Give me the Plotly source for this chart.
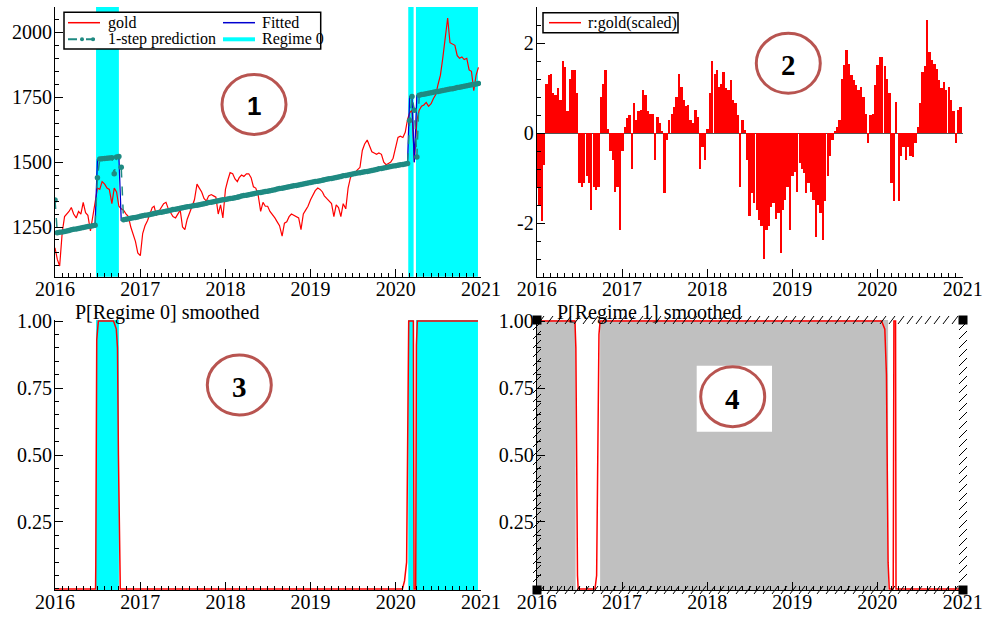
import plotly.graph_objects as go

# ---------------- data ----------------
years = [2016, 2017, 2018, 2019, 2020]
days = [1, 11, 21]
dates = [f"{y}-{m:02d}-{d:02d}" for y in years for m in range(1, 13) for d in days]

gold = [
    1170, 1125, 1100, 1230, 1290, 1300, 1310, 1325, 1300, 1285, 1310, 1300,
    1345, 1305, 1295, 1235, 1300, 1345, 1400, 1395, 1425, 1415, 1400, 1395,
    1340, 1400, 1385, 1330, 1320, 1315, 1300, 1290, 1250, 1225, 1195, 1150,
    1140, 1225, 1255, 1275, 1300, 1325, 1330, 1295, 1310, 1325, 1340, 1345,
    1320, 1305, 1290, 1285, 1300, 1315, 1250, 1240, 1280, 1310, 1330, 1355,
    1415, 1400, 1385, 1360, 1350, 1370, 1375, 1370, 1365, 1300, 1335, 1285,
    1395, 1430, 1460, 1455, 1435, 1425, 1440, 1450, 1445, 1455, 1455, 1440,
    1405, 1400, 1375, 1310, 1345, 1330, 1330, 1310, 1300, 1285, 1270, 1255,
    1215, 1265, 1270, 1290, 1300, 1295, 1290, 1285, 1240, 1300, 1315, 1330,
    1355, 1370, 1390, 1400, 1395, 1385, 1370, 1360, 1350, 1340, 1290, 1335,
    1325, 1290, 1340, 1320, 1400, 1440, 1455, 1460, 1470, 1480, 1545, 1570,
    1585, 1560, 1540, 1535, 1530, 1535, 1530, 1500, 1490, 1495, 1500, 1515,
    1560, 1595, 1600, 1595, 1615, 1665, 1690, 1700, 1500, 1660, 1700, 1715,
    1720, 1730, 1715, 1725, 1745, 1760, 1800, 1835, 1900, 1975, 2055, 1960,
    1955, 1950, 1910, 1900, 1905, 1895, 1900, 1855, 1850, 1775, 1835, 1865,
]

fitted = [
    1226, 1228, 1230, 1231, 1233, 1235, 1237, 1239, 1241, 1242, 1244, 1246,
    1248, 1250, 1252, 1253, 1255, 1257, 1510, 1512, 1513, 1514, 1515, 1516,
    1517, 1518, 1520, 1522, 1276, 1278, 1280, 1282, 1284, 1286, 1287, 1289,
    1291, 1293, 1295, 1296, 1298, 1300, 1302, 1304, 1306, 1307, 1309, 1311,
    1313, 1315, 1317, 1318, 1320, 1322, 1324, 1326, 1328, 1329, 1331, 1333,
    1334, 1336, 1338, 1340, 1342, 1344, 1345, 1347, 1349, 1351, 1353, 1355,
    1356, 1358, 1360, 1361, 1363, 1365, 1367, 1369, 1371, 1372, 1374, 1376,
    1378, 1380, 1382, 1383, 1385, 1387, 1388, 1390, 1392, 1394, 1396, 1398,
    1399, 1401, 1403, 1405, 1407, 1409, 1410, 1412, 1414, 1416, 1418, 1420,
    1421, 1423, 1425, 1426, 1428, 1430, 1432, 1434, 1436, 1437, 1439, 1441,
    1443, 1445, 1447, 1448, 1450, 1452, 1454, 1456, 1458, 1459, 1461, 1463,
    1464, 1466, 1468, 1470, 1472, 1474, 1475, 1477, 1479, 1481, 1483, 1485,
    1486, 1488, 1490, 1491, 1493, 1495, 1752, 1753, 1500, 1756, 1758, 1760,
    1761, 1763, 1765, 1767, 1769, 1771, 1772, 1774, 1776, 1778, 1780, 1782,
    1783, 1785, 1787, 1788, 1790, 1792, 1794, 1796, 1798, 1799, 1801, 1803,
]

prediction = [
    1354, 1228, 1230, 1231, 1233, 1235, 1237, 1239, 1241, 1242, 1244, 1246,
    1248, 1250, 1252, 1253, 1255, 1257, 1440, 1512, 1513, 1514, 1515, 1516,
    1517, 1455, 1520, 1522, 1480, 1278, 1280, 1282, 1284, 1286, 1287, 1289,
    1291, 1293, 1295, 1296, 1298, 1300, 1302, 1304, 1306, 1307, 1309, 1311,
    1313, 1315, 1317, 1318, 1320, 1322, 1324, 1326, 1328, 1329, 1331, 1333,
    1334, 1336, 1338, 1340, 1342, 1344, 1345, 1347, 1349, 1351, 1353, 1355,
    1356, 1358, 1360, 1361, 1363, 1365, 1367, 1369, 1371, 1372, 1374, 1376,
    1378, 1380, 1382, 1383, 1385, 1387, 1388, 1390, 1392, 1394, 1396, 1398,
    1399, 1401, 1403, 1405, 1407, 1409, 1410, 1412, 1414, 1416, 1418, 1420,
    1421, 1423, 1425, 1426, 1428, 1430, 1432, 1434, 1436, 1437, 1439, 1441,
    1443, 1445, 1447, 1448, 1450, 1452, 1454, 1456, 1458, 1459, 1461, 1463,
    1464, 1466, 1468, 1470, 1472, 1474, 1475, 1477, 1479, 1481, 1483, 1485,
    1486, 1488, 1490, 1491, 1493, 1495, 1660, 1753, 1700, 1520, 1758, 1760,
    1761, 1763, 1765, 1767, 1769, 1771, 1772, 1774, 1776, 1778, 1780, 1782,
    1783, 1785, 1787, 1788, 1790, 1792, 1794, 1796, 1798, 1799, 1801, 1803,
]

resid_scaled = [
    -1.2, -1.6, -1.95, -0.7, 1.1, 1.3, 1.33, 0.9, 0.85, 1.0, 0.74, 1.6,
    1.48, 0.5, 1.2, 1.4, 1.4, 0.9, -1.1, -1.2, -1.1, -0.95, -1.1, -1.7,
    -1.2, -1.25, -1.2, 0.8, 1.1, 1.4, 0.1, -0.4, -0.6, -1.3, -1.2, -2.15,
    -0.4, 0.15, 0.35, 0.4, -0.8, 0.67, 0.3, 0.5, 0.52, 0.96, 0.85, 0.5,
    0.44, 0.44, -0.6, 0.37, 0.22, 0.05, -1.33, -0.15, 0.3, 0.44, 0.59, 0.81,
    1.33, 1.04, 0.74, 0.6, 0.63, 0.3, 0.22, 0.52, 0.37, -0.8, -0.3, -0.6,
    0.1, 0.9, 1.6, 1.33, 1.4, 1.04, 1.1, 1.37, 1.0, 0.96, 1.19, 0.74,
    0.67, 0.41, -1.19, 0.3, 0.07, -0.6, -1.85, -1.33, -1.55, -1.7, -1.93, -2.07,
    -2.8, -2.15, -2.07, -1.63, -1.55, -1.9, -1.78, -2.67, -1.7, -1.48, -1.19, -2.15,
    -0.96, -0.85, -1.3, -0.67, -0.8, -0.89, -1.33, -1.1, -1.3, -1.48, -2.3, -1.6,
    -1.78, -2.37, -1.5, -0.96, -0.5, -0.15, 0.05, 0.15, 0.3, 1.2, 1.52, 1.85,
    1.55, 1.3, 1.19, 1.07, 0.96, 1.04, 0.81, 0.44, -0.22, 0.4, 0.44, 1.07,
    1.52, 1.7, 1.7, 1.5, 1.2, 0.9, -1.1, -1.5, 0.7, -1.5, -0.5, -0.3,
    -0.6, -0.3, -0.5, -0.52, -0.22, 0.15, 0.67, 1.37, 1.5, 2.52, 1.8, 1.63,
    1.55, 1.44, 1.19, 1.0, 1.15, 0.96, 1.04, 0.74, 0.5, -0.22, 0.52, 0.59,
]

p0_dates = ["2016-01-01", "2016-06-23", "2016-06-24", "2016-06-28", "2016-07-05",
            "2016-09-08", "2016-09-20", "2016-09-25", "2016-09-29", "2016-10-07",
            "2020-01-30", "2020-02-08", "2020-02-17", "2020-02-21", "2020-02-26",
            "2020-03-17", "2020-03-20", "2020-03-27", "2020-03-30", "2020-04-03",
            "2020-12-19"]
p0_values = [0, 0, 0.09, 0.93, 1.0, 1.0, 0.97, 0.9, 0.5, 0.0,
             0.0, 0.03, 0.1, 0.43, 1.0, 1.0, 0.0, 0.0, 0.91, 1.0, 1.0]

p1_dates = ["2016-01-01", "2016-06-13", "2016-06-17", "2016-06-20", "2016-06-24",
            "2016-06-27", "2016-09-07", "2016-09-14", "2016-09-19", "2016-09-24",
            "2016-09-29", "2020-01-19", "2020-02-02", "2020-02-09", "2020-02-16",
            "2020-02-21", "2020-03-09", "2020-03-12", "2020-03-19", "2020-03-21",
            "2020-12-19"]
p1_values = [1.0, 1.0, 0.9, 0.36, 0.05, 0.0, 0.0, 0.05, 0.5, 0.95,
             1.0, 1.0, 0.97, 0.8, 0.1, 0.0, 0.0, 1.0, 1.0, 0.0, 0.0]

regime0_start = ["2016-06-25", "2020-02-24", "2020-03-28"]
regime0_end = ["2016-10-01", "2020-03-18", "2020-12-19"]
regime1_start = ["2016-01-01", "2016-09-29"]
regime1_end = ["2016-06-16", "2020-02-16"]

year_ticks = ["2016", "2017", "2018", "2019", "2020", "2021"]

# ---------------- styling helpers ----------------
W, H = 985, 619
def fx(x):
    return x / W
def fy(y):
    return 1 - y / H

RED = "#ff0000"
BLUE = "#0000d0"
TEAL = "#1f8a82"
CYAN = "#00ffff"
GREY = "#c0c0c0"
CIRC = "#b85450"
FONT = "Liberation Serif"

fig = go.Figure()

# panel 1
fig.add_trace(go.Scatter(x=dates, y=gold, mode="lines", line=dict(color=RED, width=1.2),
                         name="gold", xaxis="x", yaxis="y"))
fig.add_trace(go.Scatter(x=dates, y=fitted, mode="lines", line=dict(color=BLUE, width=1.3),
                         name="Fitted", xaxis="x", yaxis="y"))
fig.add_trace(go.Scatter(x=dates, y=prediction, mode="lines+markers",
                         line=dict(color=TEAL, width=1.5, dash="dash"),
                         marker=dict(color=TEAL, size=5.5),
                         name="1-step prediction", xaxis="x", yaxis="y"))
# panel 2
fig.add_trace(go.Bar(x=dates, y=resid_scaled, marker=dict(color=RED, line=dict(width=0)),
                     width=10 * 86400000, name="r:gold(scaled)", xaxis="x2", yaxis="y2"))
# panel 3
fig.add_trace(go.Scatter(x=p0_dates, y=p0_values, mode="lines", line=dict(color=RED, width=1.5),
                         name="P[Regime 0] smoothed", xaxis="x3", yaxis="y3"))
# panel 4
fig.add_trace(go.Scatter(x=p1_dates, y=p1_values, mode="lines", line=dict(color=RED, width=1.5),
                         name="P[Regime 1] smoothed", xaxis="x4", yaxis="y4"))

tickfont = dict(family=FONT, size=20, color="black")
base = dict(showline=True, linecolor="black", linewidth=1, ticks="inside", tickcolor="black",
            ticklen=8, tickwidth=1, showgrid=False, zeroline=False, tickfont=tickfont,
            automargin=False)

def xax(x0, x1, anchor):
    return dict(base, type="date", range=["2016-01-01", "2021-01-01"],
                tickmode="array", tickvals=[f"{t}-01-01" for t in year_ticks], ticktext=year_ticks,
                minor=dict(dtick="M1", tick0="2016-01-01", ticks="inside", ticklen=4,
                           tickcolor="black", showgrid=False),
                ticklabelstandoff=-6,
                domain=[fx(x0), fx(x1)], anchor=anchor)

def yax(x_anchor, top, bottom, **kw):
    d = dict(base, ticklabelstandoff=-2, domain=[fy(bottom), fy(top)], anchor=x_anchor)
    d.update(kw)
    return d

prob_vals = [0.25, 0.5, 0.75, 1.0]
prob_text = ["0.25", "0.50", "0.75", "1.00"]
prob_minor = dict(tickmode="linear", tick0=0, dtick=0.05, ticks="inside", ticklen=4,
                  tickcolor="black")

fig.update_layout(
    width=W, height=H, margin=dict(l=0, r=0, t=0, b=0, pad=0),
    font=dict(family=FONT, size=20, color="black"),
    paper_bgcolor="white", plot_bgcolor="white", showlegend=False, bargap=0,
    xaxis=xax(55, 481, "y"),
    xaxis2=xax(536.7, 962.7, "y2"),
    xaxis3=xax(55, 481, "y3"),
    xaxis4=xax(536.7, 962.7, "y4"),
    yaxis=yax("x", 7, 276.7, range=[1058.6, 2097.5], tick0=1250, dtick=250,
              minor=dict(tick0=1250, dtick=50, ticks="inside", ticklen=4, tickcolor="black")),
    yaxis2=yax("x2", 7, 276.7, range=[-3.19, 2.81], tickmode="array", tickvals=[-2, 0, 2],
               ticktext=["-2", "0", "2"],
               minor=dict(tickmode="linear", tick0=0, dtick=0.4, ticks="inside", ticklen=4,
                          tickcolor="black"),
               zeroline=True, zerolinecolor="#555555", zerolinewidth=1),
    yaxis3=yax("x3", 320, 590, range=[-0.004, 1.004], tickmode="array", tickvals=prob_vals,
               ticktext=prob_text, minor=prob_minor),
    yaxis4=yax("x4", 320, 590, range=[-0.004, 1.004], tickmode="array", tickvals=prob_vals,
               ticktext=prob_text, minor=prob_minor),
)

shapes = []
# regime shading
for s, e in zip(regime0_start, regime0_end):
    for xr, yr in (("x", "y domain"), ("x3", "y3 domain")):
        shapes.append(dict(type="rect", xref=xr, yref=yr, x0=s, x1=e, y0=0, y1=1,
                           fillcolor=CYAN, line=dict(width=0), layer="below"))
for s, e in zip(regime1_start, regime1_end):
    shapes.append(dict(type="rect", xref="x4", yref="y4 domain", x0=s, x1=e, y0=0, y1=1,
                       fillcolor=GREY, line=dict(width=0), layer="below"))

def prect(x0, y0, x1, y1, **kw):
    d = dict(type="rect", xref="paper", yref="paper", x0=fx(x0), x1=fx(x1), y0=fy(y1), y1=fy(y0))
    d.update(kw)
    return d

def pline(x0, y0, x1, y1, **kw):
    d = dict(type="line", xref="paper", yref="paper", x0=fx(x0), x1=fx(x1), y0=fy(y0), y1=fy(y1))
    d.update(kw)
    return d

def pcircle(cx, cy, rx, ry, **kw):
    d = dict(type="circle", xref="paper", yref="paper", x0=fx(cx - rx), x1=fx(cx + rx),
             y0=fy(cy + ry), y1=fy(cy - ry))
    d.update(kw)
    return d

# legend panel 1
shapes.append(prect(64, 12.3, 320.7, 49, fillcolor="white", line=dict(color="black", width=1.5)))
shapes.append(pline(68, 22.7, 100, 22.7, line=dict(color=RED, width=1.5)))
shapes.append(pline(68, 39.3, 100, 39.3, line=dict(color=TEAL, width=2, dash="dash")))
for cx in (82, 93):
    shapes.append(pcircle(cx, 39.3, 2, 2, fillcolor=TEAL, line=dict(color=TEAL, width=0)))
shapes.append(pline(223, 22.7, 255, 22.7, line=dict(color=BLUE, width=1.5)))
shapes.append(pline(223, 39.3, 255, 39.3, line=dict(color=CYAN, width=4)))
# legend panel 2
shapes.append(prect(543, 12.7, 678, 32.7, fillcolor="white", line=dict(color="black", width=1.5)))
shapes.append(pline(549, 22.7, 581, 22.7, line=dict(color=RED, width=1.5)))

# panel 4 white box behind circle
shapes.append(prect(696.7, 365.7, 772, 431.7, fillcolor="white", line=dict(width=0)))

# panel 4 hatched selection frame
L, R, T, B = 537, 963, 320, 590
path = ""
x = L + 4
while x < R - 3:
    path += f"M{fx(x - 3)},{fy(T + 4)} L{fx(x + 3)},{fy(T - 4)} "
    path += f"M{fx(x - 3)},{fy(B + 4)} L{fx(x + 3)},{fy(B - 4)} "
    x += 9
y = T + 6
while y < B - 3:
    path += f"M{fx(R - 4)},{fy(y + 4)} L{fx(R + 4)},{fy(y - 4)} "
    path += f"M{fx(L - 4)},{fy(y + 4)} L{fx(L + 4)},{fy(y - 4)} "
    y += 9
shapes.append(dict(type="path", xref="paper", yref="paper", path=path,
                   line=dict(color="black", width=1)))
for cx, cy in ((L, T), (R, T), (L, B), (R, B)):
    shapes.append(prect(cx - 4.5, cy - 4.5, cx + 4.5, cy + 4.5, fillcolor="black",
                        line=dict(width=0)))

# numbered circles
for cx, cy in ((254, 104.5), (788.3, 63.3), (239.3, 385), (732.7, 396.7)):
    shapes.append(pcircle(cx, cy, 32, 30, line=dict(color=CIRC, width=3)))

fig.update_layout(shapes=shapes)

ann = []
def ptext(x, y, text, size=16, xanchor="left", family=FONT, bold=False):
    t = f"<b>{text}</b>" if bold else text
    ann.append(dict(x=fx(x), y=fy(y), xref="paper", yref="paper", text=t, showarrow=False,
                    xanchor=xanchor, yanchor="middle",
                    font=dict(family=family, size=size, color="black")))

ptext(106, 22.7, "gold")
ptext(106, 39.3, "1-step prediction")
ptext(260, 22.7, "Fitted")
ptext(260, 39.3, "Regime 0")
ptext(586, 22.7, "r:gold(scaled)")
ptext(73, 312, "P[Regime 0] smoothed", size=20)
ptext(555, 312, "P[Regime 1] smoothed", size=20)
ptext(254, 106, "1", size=26, xanchor="center", family="Liberation Sans", bold=True)
ptext(788.3, 65, "2", size=29, xanchor="center", bold=True)
ptext(239.3, 387, "3", size=29, xanchor="center", bold=True)
ptext(732.7, 399, "4", size=29, xanchor="center", bold=True)
fig.update_layout(annotations=ann)

fig.write_html("out.html", config={"displayModeBar": False},
               post_script="document.body.style.margin='0px';")
